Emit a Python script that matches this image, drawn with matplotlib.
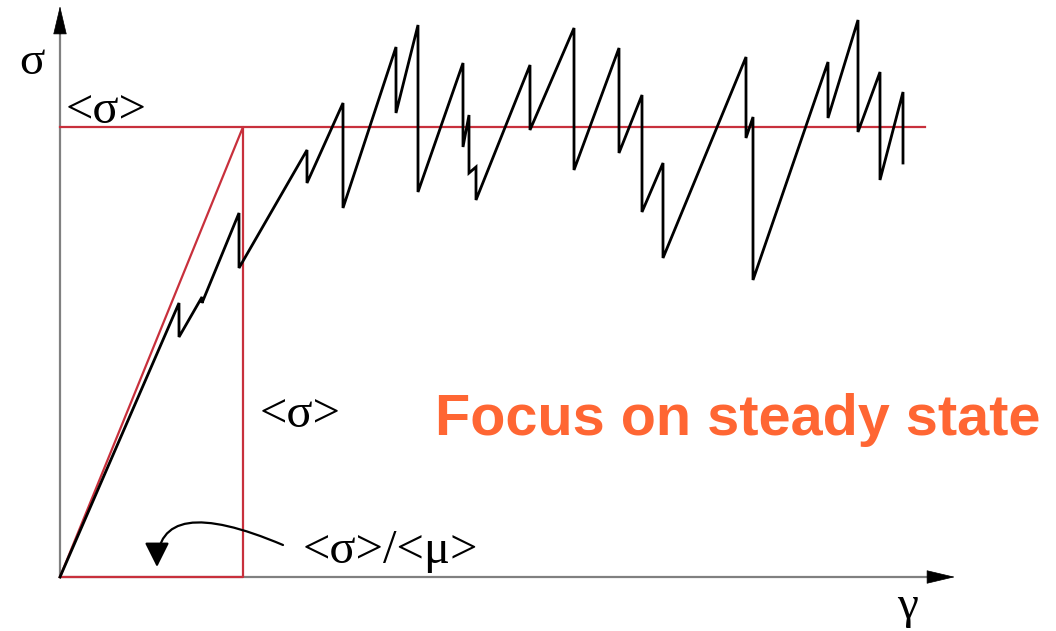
import matplotlib
matplotlib.use("Agg")
import matplotlib.pyplot as plt

# stress-strain sawtooth (arbitrary units)
gamma = [0, 119, 119, 142, 142, 179, 179, 247, 247, 283, 283, 336, 336, 358, 358,
         403, 403, 409, 409, 416, 416, 470, 470, 514, 514, 559, 559, 582, 582,
         603, 603, 686, 686, 693, 693, 768, 768, 798, 798, 820, 820, 843, 843]
sigma = [0, 274, 240, 280, 274, 364, 309, 427, 394, 474, 369, 530, 464, 552, 385,
         514, 430, 462, 404, 410, 377, 512, 447, 549, 407, 529, 424, 482, 365,
         414, 319, 520, 439, 460, 297, 515, 459, 557, 445, 505, 397, 485, 414]

mean_sigma = 450      # <sigma>
yield_gamma = 183     # <sigma>/<mu>
steady_end = 865      # end of the horizontal <sigma> line
x_tip = 895
y_tip = 569

red = "#c8303c"
gray = "#808080"
orange = "#ff6633"
serif = "Liberation Serif"

fig = plt.figure(figsize=(10.56, 6.31), dpi=100)
ax = fig.add_axes([0, 0, 1, 1])
ax.set_xlim(-60, 996)
ax.set_ylim(-54, 577)
ax.axis("off")

# axes with arrow heads
ax.plot([0, x_tip - 25], [0, 0], color=gray, lw=1.6, solid_capstyle="butt")
ax.plot([0, 0], [0, y_tip - 25], color=gray, lw=1.6, solid_capstyle="butt")
ax.annotate("", xy=(x_tip, 0), xytext=(x_tip - 26, 0),
            arrowprops=dict(arrowstyle="-|>,head_length=1.9,head_width=0.45",
                            color="black", lw=0.5, shrinkA=0, shrinkB=0))
ax.annotate("", xy=(0, y_tip + 2), xytext=(0, y_tip - 26),
            arrowprops=dict(arrowstyle="-|>,head_length=1.9,head_width=0.45",
                            color="black", lw=0.5, shrinkA=0, shrinkB=0))

# red construction lines
ax.plot([0, steady_end], [mean_sigma, mean_sigma], color=red, lw=1.6)
ax.plot([0, yield_gamma, yield_gamma, 0], [0, mean_sigma, 0, 0], color=red, lw=1.6)

# sawtooth curve
ax.plot(gamma, sigma, color="black", lw=2.0, solid_joinstyle="miter")

# labels
ax.text(-28, 514, "σ", fontsize=34, family=serif, ha="center", va="center")
ax.text(46, 466, "<σ>", fontsize=35, family=serif, ha="center", va="center")
ax.text(240, 162, "<σ>", fontsize=35, family=serif, ha="center", va="center")
ax.text(330, 26, "<σ>/<μ>", fontsize=35, family=serif, ha="center", va="center")
ax.text(848, -30, "γ", fontsize=34, family=serif, ha="center", va="center")
ax.text(678, 142, "Focus on steady state", fontsize=41.5, family="Liberation Sans",
        fontweight="bold", color=orange, ha="center", va="baseline")

# curved arrow to the base of the triangle
ax.annotate("", xy=(97, 10), xytext=(223, 32),
            arrowprops=dict(arrowstyle="-|>,head_length=1.5,head_width=0.75",
                            color="black", lw=1.6,
                            connectionstyle="angle3,angleA=157,angleB=90",
                            shrinkA=0, shrinkB=0))

fig.savefig("out.png", dpi=100)
